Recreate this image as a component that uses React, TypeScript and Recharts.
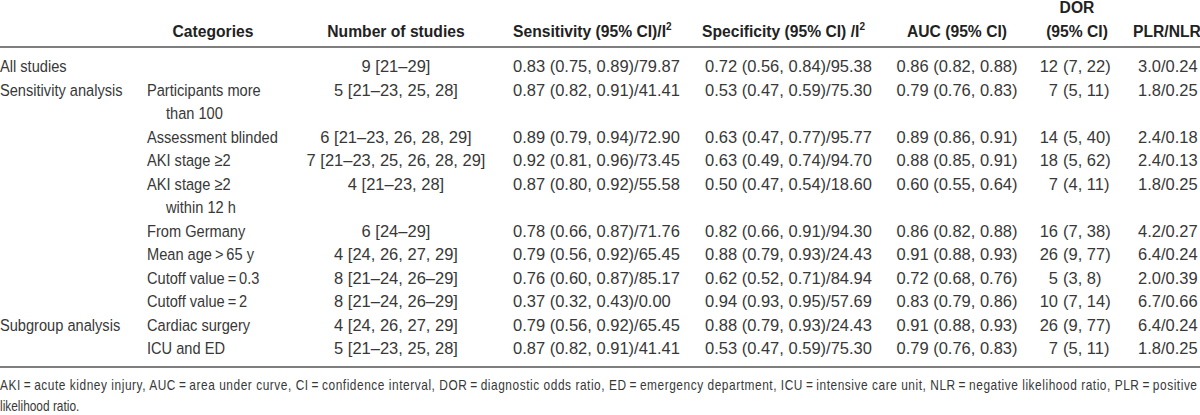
import { ScatterChart, Scatter, XAxis, YAxis, ReferenceLine } from "recharts";

const W = 1200;
const H = 415;
const ROW_STEP = 23.5;
const FIRST_BASELINE = 72;

const groups = ["All studies", "Sensitivity analysis", "", "", "", "", "", "", "", "Subgroup analysis", ""];
const categories = [
  "",
  "Participants more\nthan 100",
  "Assessment blinded",
  "AKI stage \u22652",
  "AKI stage \u22652\nwithin 12 h",
  "From Germany",
  "Mean age\u2009>\u200965 y",
  "Cutoff value\u2009=\u20090.3",
  "Cutoff value\u2009=\u20092",
  "Cardiac surgery",
  "ICU and ED",
];
const studies = [
  "9 [21\u201329]",
  "5 [21\u201323, 25, 28]",
  "6 [21\u201323, 26, 28, 29]",
  "7 [21\u201323, 25, 26, 28, 29]",
  "4 [21\u201323, 28]",
  "6 [24\u201329]",
  "4 [24, 26, 27, 29]",
  "8 [21\u201324, 26\u201329]",
  "8 [21\u201324, 26\u201329]",
  "4 [24, 26, 27, 29]",
  "5 [21\u201323, 25, 28]",
];
const sensitivity = [
  "0.83 (0.75, 0.89)/79.87",
  "0.87 (0.82, 0.91)/41.41",
  "0.89 (0.79, 0.94)/72.90",
  "0.92 (0.81, 0.96)/73.45",
  "0.87 (0.80, 0.92)/55.58",
  "0.78 (0.66, 0.87)/71.76",
  "0.79 (0.56, 0.92)/65.45",
  "0.76 (0.60, 0.87)/85.17",
  "0.37 (0.32, 0.43)/0.00",
  "0.79 (0.56, 0.92)/65.45",
  "0.87 (0.82, 0.91)/41.41",
];
const specificity = [
  "0.72 (0.56, 0.84)/95.38",
  "0.53 (0.47, 0.59)/75.30",
  "0.63 (0.47, 0.77)/95.77",
  "0.63 (0.49, 0.74)/94.70",
  "0.50 (0.47, 0.54)/18.60",
  "0.82 (0.66, 0.91)/94.30",
  "0.88 (0.79, 0.93)/24.43",
  "0.62 (0.52, 0.71)/84.94",
  "0.94 (0.93, 0.95)/57.69",
  "0.88 (0.79, 0.93)/24.43",
  "0.53 (0.47, 0.59)/75.30",
];
const auc = [
  "0.86 (0.82, 0.88)",
  "0.79 (0.76, 0.83)",
  "0.89 (0.86, 0.91)",
  "0.88 (0.85, 0.91)",
  "0.60 (0.55, 0.64)",
  "0.86 (0.82, 0.88)",
  "0.91 (0.88, 0.93)",
  "0.72 (0.68, 0.76)",
  "0.83 (0.79, 0.86)",
  "0.91 (0.88, 0.93)",
  "0.79 (0.76, 0.83)",
];
const dor = [
  "12 (7, 22)",
  "7 (5, 11)",
  "14 (5, 40)",
  "18 (5, 62)",
  "7 (4, 11)",
  "16 (7, 38)",
  "26 (9, 77)",
  "5 (3, 8)",
  "10 (7, 14)",
  "26 (9, 77)",
  "7 (5, 11)",
];
const plrNlr = ["3.0/0.24", "1.8/0.25", "2.4/0.18", "2.4/0.13", "1.8/0.25", "4.2/0.27", "6.4/0.24", "2.0/0.39", "6.7/0.66", "6.4/0.24", "1.8/0.25"];

const footnotes = [
  "AKI\u2009=\u2009acute kidney injury, AUC\u2009=\u2009area under curve, CI\u2009=\u2009confidence interval, DOR\u2009=\u2009diagnostic odds ratio, ED\u2009=\u2009emergency department, ICU\u2009=\u2009intensive care unit, NLR\u2009=\u2009negative likelihood ratio, PLR\u2009=\u2009positive",
  "likelihood ratio.",
];

// column anchors (px) and alignment
const COL = {
  group: { x: 0, anchor: "start" },
  category: { x: 147, anchor: "start" },
  studies: { x: 396, anchor: "middle" },
  sens: { x: 513, anchor: "start" },
  spec: { x: 705, anchor: "start" },
  auc: { x: 957, anchor: "middle" },
  dorNum: { x: 1058, anchor: "end" },
  dorCi: { x: 1063, anchor: "start" },
  plr: { x: 1138, anchor: "start" },
};

const FONT = "'Liberation Sans', Arial, Helvetica, sans-serif";
const TEXT = "#383838";
const HEAD = "#222";

type Cell = {
  x: number;
  y: number;
  text: string;
  anchor: string;
  kind: "head" | "body" | "num" | "foot";
  sup?: boolean;
};

function buildCells(): Cell[] {
  const cells: Cell[] = [];
  // two header lines, above the rule
  cells.push({ x: 213, y: -1.5, text: "Categories", anchor: "middle", kind: "head" });
  cells.push({ x: 396, y: -1.5, text: "Number of studies", anchor: "middle", kind: "head" });
  cells.push({ x: 513, y: -1.5, text: "Sensitivity (95% CI)/I", anchor: "start", kind: "head", sup: true });
  cells.push({ x: 702, y: -1.5, text: "Specificity (95% CI) /I", anchor: "start", kind: "head", sup: true });
  cells.push({ x: 957, y: -1.5, text: "AUC (95% CI)", anchor: "middle", kind: "head" });
  cells.push({ x: 1077, y: -2.5, text: "DOR", anchor: "middle", kind: "head" });
  cells.push({ x: 1077, y: -1.5, text: "(95% CI)", anchor: "middle", kind: "head" });
  cells.push({ x: 1133, y: -1.5, text: "PLR/NLR", anchor: "start", kind: "head" });

  let line = 0;
  categories.forEach((cat, i) => {
    const catLines = cat ? cat.split("\n") : [];
    if (groups[i]) cells.push({ x: COL.group.x, y: line, text: groups[i], anchor: COL.group.anchor, kind: "body" });
    catLines.forEach((t, j) =>
      cells.push({ x: COL.category.x + (j > 0 ? 19 : 0), y: line + j, text: t, anchor: "start", kind: "body" })
    );
    cells.push({ x: COL.studies.x, y: line, text: studies[i], anchor: COL.studies.anchor, kind: "num" });
    cells.push({ x: COL.sens.x, y: line, text: sensitivity[i], anchor: COL.sens.anchor, kind: "num" });
    cells.push({ x: COL.spec.x, y: line, text: specificity[i], anchor: COL.spec.anchor, kind: "num" });
    cells.push({ x: COL.auc.x, y: line, text: auc[i], anchor: COL.auc.anchor, kind: "num" });
    const sp = dor[i].indexOf(" ");
    cells.push({ x: COL.dorNum.x, y: line, text: dor[i].slice(0, sp), anchor: COL.dorNum.anchor, kind: "num" });
    cells.push({ x: COL.dorCi.x, y: line, text: dor[i].slice(sp + 1), anchor: COL.dorCi.anchor, kind: "num" });
    cells.push({ x: COL.plr.x, y: line, text: plrNlr[i], anchor: COL.plr.anchor, kind: "num" });
    line += Math.max(1, catLines.length);
  });
  return cells;
}

const cells = buildCells();
const BODY_LINES = 13;
const footCells: Cell[] = footnotes.map((t, i) => ({
  x: 0,
  y: BODY_LINES + 0.52 + i * 0.9,
  text: t,
  anchor: "start",
  kind: "foot",
}));

const Y_MIN = -FIRST_BASELINE / ROW_STEP;
const Y_MAX = (H - FIRST_BASELINE) / ROW_STEP;

// condensed look: Arial metrics squeezed horizontally
const STYLE = {
  head: { size: 17.2, weight: "bold", fill: HEAD, sx: 0.91 },
  body: { size: 17.2, weight: "normal", fill: TEXT, sx: 0.85 },
  num: { size: 17.2, weight: "normal", fill: TEXT, sx: 0.96 },
  foot: { size: 14, weight: "normal", fill: TEXT, sx: 0.85 },
};

function CellText(props: any) {
  const { cx, cy, payload } = props;
  const c: Cell = payload;
  const s = STYLE[c.kind];
  const fit = c.kind === "foot" && c.text.length > 50;
  return (
    <text
      x={0}
      y={0}
      transform={`translate(${cx} ${cy}) scale(${s.sx} 1)`}
      textAnchor={c.anchor as any}
      fontSize={s.size}
      fontWeight={s.weight as any}
      fill={s.fill}
      fontFamily={FONT}
      textLength={fit ? 1197 / s.sx : undefined}
      lengthAdjust={fit ? "spacing" : undefined}
    >
      {c.text}
      {c.sup ? (
        <tspan dy={-7} fontSize={11}>
          2
        </tspan>
      ) : null}
    </text>
  );
}

export default function App() {
  return (
    <div style={{ position: "absolute", left: 0, top: 0, width: W, height: H, background: "#fff" }}>
      <ScatterChart width={W} height={H} margin={{ top: 0, right: 0, bottom: 0, left: 0 }}>
        <XAxis type="number" dataKey="x" domain={[0, W]} hide allowDataOverflow />
        <YAxis type="number" dataKey="y" domain={[Y_MIN, Y_MAX]} reversed hide allowDataOverflow />
        <ReferenceLine y={-1.06} stroke="#555" strokeWidth={1.5} />
        <ReferenceLine y={12.55} stroke="#555" strokeWidth={1.5} />
        <Scatter data={[...cells, ...footCells]} isAnimationActive={false} shape={(p: any) => <CellText {...p} />} />
      </ScatterChart>
    </div>
  );
}
